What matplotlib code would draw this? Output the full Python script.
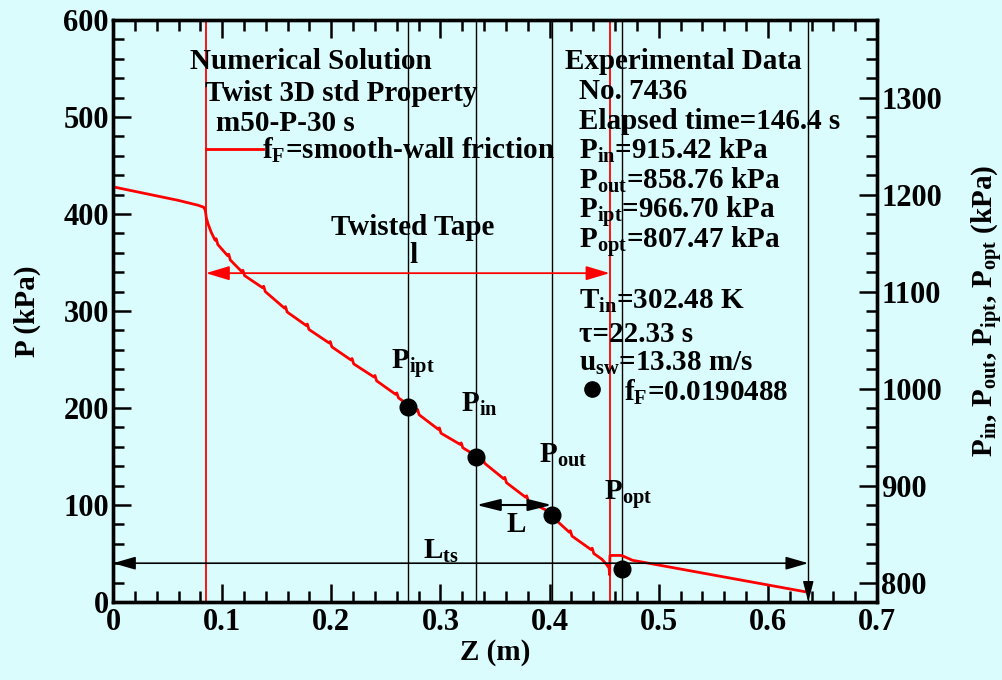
import matplotlib
matplotlib.use("Agg")
import matplotlib.pyplot as plt
from matplotlib.ticker import MultipleLocator

# ---------------- data ----------------
z_curve = [0.000, 0.030, 0.060, 0.078, 0.083, 0.0845, 0.0855, 0.087, 0.090,
           0.0935, 0.0945, 0.0960, 0.105, 0.106, 0.1075, 0.118, 0.119, 0.1205,
           0.137, 0.138, 0.1395, 0.157, 0.158, 0.1595, 0.177, 0.178, 0.1795,
           0.198, 0.199, 0.2005, 0.218, 0.219, 0.2205, 0.239, 0.240, 0.2415,
           0.259, 0.260, 0.2615, 0.278, 0.279, 0.2805, 0.298, 0.299, 0.3005,
           0.318, 0.319, 0.3205, 0.338, 0.339, 0.3405, 0.358, 0.359, 0.3605,
           0.378, 0.379, 0.3805, 0.398, 0.399, 0.4005, 0.418, 0.419, 0.4205,
           0.438, 0.439, 0.4405, 0.448, 0.452, 0.4545, 0.455, 0.4553, 0.466,
           0.470, 0.476, 0.637]
p_curve = [428, 421, 414, 409, 407, 404, 396, 390, 381,
           373, 374.5, 368.5, 357, 358.5, 352.5, 340.5, 342, 336.5,
           324, 325.5, 320, 303, 304.5, 299, 285, 286.5, 281,
           267, 268.5, 263, 249.5, 251, 245.5, 232, 233.5, 228,
           214, 215.5, 210.5, 197, 198.5, 193, 178, 179.5, 174,
           162.5, 164, 159, 147, 148.5, 143, 127, 128.5, 123,
           108, 109.5, 104, 94, 95.5, 90, 72, 73.5, 68,
           54, 55.5, 50, 44, 39, 35, 28, 48, 48,
           46, 43, 10]

# experimental points (right axis, kPa)
pt_names = ["ipt", "in", "out", "opt"]
pt_z = [0.270, 0.333, 0.402, 0.466]
pt_p = [981, 930, 870, 814]

red_lines_z = [0.085, 0.455]
black_lines_z = [0.270, 0.333, 0.402, 0.466, 0.637]

# ---------------- style ----------------
BG = "#DAFCFD"
plt.rcParams["font.family"] = ["Liberation Serif", "DejaVu Serif"]
plt.rcParams["font.weight"] = "bold"
plt.rcParams["axes.labelweight"] = "bold"
plt.rcParams["mathtext.fontset"] = "custom"
plt.rcParams["mathtext.rm"] = "Liberation Serif:bold"
plt.rcParams["mathtext.it"] = "Liberation Serif:bold"
plt.rcParams["mathtext.bf"] = "Liberation Serif:bold"

fig = plt.figure(figsize=(10.03, 6.80), dpi=100, facecolor=BG)
ax = fig.add_axes([0.1127, 0.1147, 0.7617, 0.8559], facecolor=BG)
ax2 = ax.twinx()

ax.set_xlim(0, 0.7)
ax.set_ylim(0, 600)
ax2.set_ylim(780, 1380)

ax.xaxis.set_major_locator(MultipleLocator(0.1))
ax.xaxis.set_minor_locator(MultipleLocator(0.02))
ax.yaxis.set_major_locator(MultipleLocator(100))
ax.yaxis.set_minor_locator(MultipleLocator(20))
ax2.yaxis.set_major_locator(MultipleLocator(100))
ax2.yaxis.set_minor_locator(MultipleLocator(20))

ax.xaxis.set_major_formatter(plt.FuncFormatter(lambda v, p: "0" if abs(v) < 1e-9 else f"{v:.1f}"))

for a in (ax, ax2):
    for s in a.spines.values():
        s.set_linewidth(2.4)

ax.tick_params(which="both", direction="in", top=True, right=False,
               labelsize=22, width=1.8)
ax.tick_params(which="major", length=13)
ax.tick_params(which="minor", length=8)
ax.tick_params(axis="x", pad=4)
ax.tick_params(axis="y", pad=3)
ax2.tick_params(which="both", direction="in", labelsize=22, width=1.8, pad=3)
ax2.tick_params(which="major", length=13)
ax2.tick_params(which="minor", length=8)

ax.set_xlabel("Z (m)", fontsize=21, labelpad=2, fontweight="bold")
ax.set_ylabel("P (kPa)", fontsize=21, labelpad=16, fontweight="bold")
ax2.set_ylabel(r"P$_\mathrm{in}$, P$_\mathrm{out}$, P$_\mathrm{ipt}$, P$_\mathrm{opt}$ (kPa)",
               fontsize=21, labelpad=20, fontweight="bold")

# ---------------- lines ----------------
for zl in red_lines_z:
    ax.axvline(zl, color="red", lw=1.3, zorder=2)
for zl in black_lines_z:
    ax.axvline(zl, color="black", lw=1.0, zorder=2)

ax.plot(z_curve, p_curve, color="red", lw=2.0, zorder=3)

# legend sample line
ax.plot([0.085, 0.137], [467, 467], color="red", lw=2.0, zorder=3)

# arrows
def darrow(x0, x1, y, color, hl, hw, lw=1.2):
    ax.annotate("", xy=(x1, y), xytext=(x0, y),
                arrowprops=dict(arrowstyle=f"<|-|>,head_length={hl},head_width={hw}",
                                color=color, lw=lw, shrinkA=0, shrinkB=0,
                                mutation_scale=36), zorder=4)

darrow(0.085, 0.455, 339, "red", 0.4, 0.12, lw=1.3)
darrow(0.333, 0.402, 100, "black", 0.4, 0.10, lw=1.5)
darrow(0.0, 0.637, 40, "black", 0.38, 0.11, lw=1.2)
ax.annotate("", xy=(0.637, 0), xytext=(0.637, 20),
            arrowprops=dict(arrowstyle="-|>,head_length=0.35,head_width=0.09",
                            color="black", lw=1.0, shrinkA=0, shrinkB=0,
                            mutation_scale=36), zorder=4)

# points
ax2.plot(pt_z, pt_p, "o", color="black", ms=12, zorder=5)
ax2.plot([0.439], [1000], "o", color="black", ms=11, zorder=5)

# ---------------- text ----------------
fs = 21
def t(x, y, s, ha="left"):
    ax.text(x, y, s, fontsize=fs, ha=ha, va="baseline", zorder=6)

t(0.0706, 549.5, "Numerical Solution")
t(0.0844, 516.5, "Twist 3D std Property")
t(0.0945, 485.6, "m50-P-30 s")
t(0.1367, 456.7, r"f$_\mathrm{F}$=smooth-wall friction")

t(0.4138, 549.5, "Experimental Data")
t(0.4266, 518.6, "No. 7436")
t(0.4266, 487.6, "Elapsed time=146.4 s")
t(0.4266, 456.7, r"P$_\mathrm{in}$=915.42 kPa")
t(0.4266, 425.8, r"P$_\mathrm{out}$=858.76 kPa")
t(0.4266, 394.8, r"P$_\mathrm{ipt}$=966.70 kPa")
t(0.4266, 363.9, r"P$_\mathrm{opt}$=807.47 kPa")
t(0.4266, 302.0, r"T$_\mathrm{in}$=302.48 K")
t(0.4266, 268.0, "τ=22.33 s")
t(0.4266, 238.0, r"u$_\mathrm{sw}$=13.38 m/s")
t(0.468, 207.0, r"f$_\mathrm{F}$=0.0190488")

t(0.275, 378, "Twisted Tape", ha="center")
t(0.275, 349.5, "l", ha="center")

t(0.255, 240, r"P$_\mathrm{ipt}$")
t(0.319, 196, r"P$_\mathrm{in}$")
t(0.390, 144, r"P$_\mathrm{out}$")
t(0.4495, 105, r"P$_\mathrm{opt}$")
t(0.369, 72, "L", ha="center")
t(0.284, 45, r"L$_\mathrm{ts}$")

fig.savefig("out.png", dpi=100, facecolor=BG)
